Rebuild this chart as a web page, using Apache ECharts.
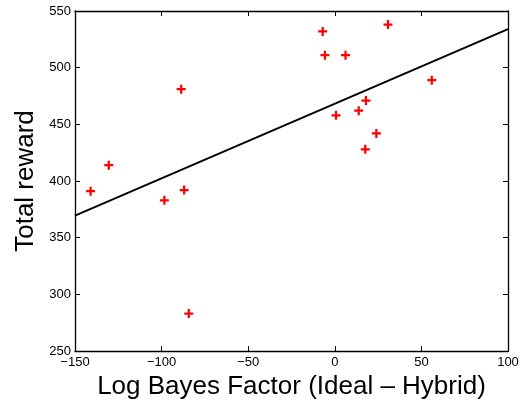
<!DOCTYPE html>
<html lang="en">
<head>
<meta charset="UTF-8">
<title>Total reward vs Log Bayes Factor</title>
<script src="https://cdn.jsdelivr.net/npm/echarts@6/dist/echarts.min.js"></script>
<style>
    html, body { margin: 0; padding: 0; background: #fff; }
    #chart { width: 524px; height: 400px; }
</style>
</head>
<body>
<div id="chart"></div>
<script>
    // data
    var bayesFactor = [-7, -5.7, 6.2, 30.7, 56, -88.7, 0.7, 13.8, 18, 24, 17.6, -130.5, -141, -87, -98.4, -84.3];
    var totalReward = [532, 511, 511, 538, 489, 481, 458, 462, 471, 442, 428, 414, 391, 392, 383, 283];
    // fit line end points
    var fitX = [-150, 100];
    var fitY = [369.5, 534];

    var points = [];
    for (var i = 0; i < bayesFactor.length; i++) {
        points.push([bayesFactor[i], totalReward[i]]);
    }
    var fitLine = [];
    for (var j = 0; j < fitX.length; j++) {
        fitLine.push([fitX[j], fitY[j]]);
    }

    var font = 'Liberation Sans';
    var plus = 'path://M3,0H5V3H8V5H5V8H3V5H0V3H3Z';

    var boxAxis = {
        axisLine: { show: true, onZero: false, lineStyle: { color: '#000', width: 1.3 } },
        axisTick: { show: true, inside: true, length: 5, lineStyle: { color: '#000' } },
        splitLine: { show: false }
    };

    var chart = echarts.init(document.getElementById('chart'));
    var option = {
        animation: false,
        grid: { left: 75, right: 16, top: 11, bottom: 49, containLabel: false, outerBoundsMode: 'none' },
        xAxis: [
            Object.assign({
                type: 'value', min: -150, max: 100, interval: 50, position: 'bottom',
                name: 'Log Bayes Factor (Ideal \u2013 Hybrid)',
                nameLocation: 'middle', nameGap: 21,
                nameTextStyle: { fontFamily: font, fontSize: 26, color: '#000' },
                axisLabel: {
                    fontFamily: font, fontSize: 13, color: '#000', margin: 5,
                    formatter: function (v) { return String(v).replace('-', '\u2212'); }
                }
            }, boxAxis),
            Object.assign({
                type: 'value', min: -150, max: 100, interval: 50, position: 'top',
                axisLabel: { show: false }
            }, boxAxis)
        ],
        yAxis: [
            Object.assign({
                type: 'value', min: 250, max: 550, interval: 50, position: 'left',
                name: 'Total reward',
                nameLocation: 'middle', nameGap: 35,
                nameTextStyle: { fontFamily: font, fontSize: 26, color: '#000' },
                axisLabel: { fontFamily: font, fontSize: 13, color: '#000', margin: 4 }
            }, boxAxis),
            Object.assign({
                type: 'value', min: 250, max: 550, interval: 50, position: 'right',
                axisLabel: { show: false }
            }, boxAxis)
        ],
        series: [
            {
                type: 'line',
                data: fitLine,
                showSymbol: false,
                lineStyle: { color: '#000', width: 2 },
                z: 2
            },
            {
                type: 'scatter',
                data: points,
                symbol: plus,
                symbolSize: 9,
                itemStyle: { color: '#ff0000', opacity: 1 },
                z: 3
            }
        ]
    };
    chart.setOption(option);
</script>
</body>
</html>
